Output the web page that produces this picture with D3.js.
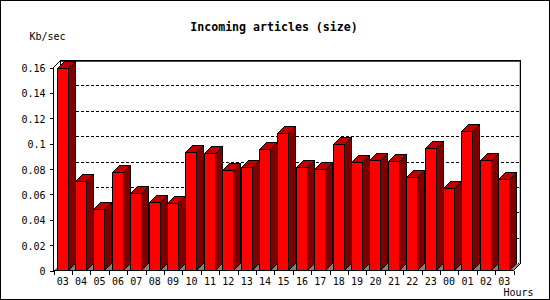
<!DOCTYPE html>
<html><head><meta charset="utf-8">
<script src="https://cdn.jsdelivr.net/npm/d3@7"></script>
<style>body{margin:0;background:#fff}svg{display:block}</style>
</head><body>
<svg id="c" width="550" height="300"></svg>
<script>
const title = "Incoming articles (size)";
const yLabel = "Kb/sec";
const xLabel = "Hours";
const categories = ["03","04","05","06","07","08","09","10","11","12","13","14","15","16","17","18","19","20","21","22","23","00","01","02","03"];
const values = [0.159,0.070,0.048,0.077,0.0605,0.0533,0.0525,0.0927,0.092,0.0786,0.081,0.0951,0.1077,0.081,0.080,0.0991,0.0849,0.0865,0.0857,0.073,0.0959,0.065,0.1096,0.0865,0.0715];
const yTicks = [0,0.02,0.04,0.06,0.08,0.1,0.12,0.14,0.16];
const yTickLabels = ["0","0.02","0.04","0.06","0.08","0.1","0.12","0.14","0.16"];

const svg = d3.select("#c");
const FONT = "'DejaVu Sans Mono', 'Liberation Mono', monospace";
const L = 53.5, R = 513.5, B = 270.5, D = 7;
const x = d3.scaleBand().domain(d3.range(categories.length)).range([L, R]);
const xb = d3.scaleLinear().domain([0, categories.length]).range([L, R]);
const y = d3.scaleLinear().domain([0, 0.16]).range([B, 67.5]);
const snap = v => Math.round(v - 0.5) + 0.5;

// outer border
svg.append("rect").attr("x",0.5).attr("y",0.5).attr("width",549).attr("height",299)
  .attr("fill","#fff").attr("stroke","#000");

const plot = svg.append("g").attr("shape-rendering","crispEdges");

// floor
plot.append("polygon")
  .attr("points", [[L,B],[L+D,B-D],[R+D,B-D],[R,B]].map(p=>p.join(",")).join(" "))
  .attr("fill","#808080");

// back-wall grid lines
plot.selectAll("line.grid").data(yTicks.filter(v => v > 0 && v < 0.16)).join("line")
  .attr("class","grid")
  .attr("x1", L+D).attr("x2", R+D)
  .attr("y1", d => snap(y(d)) - D).attr("y2", d => snap(y(d)) - D)
  .attr("stroke","#000").attr("stroke-dasharray","3,2");
// back right ticks
plot.selectAll("line.rt").data(yTicks).join("line")
  .attr("class","rt")
  .attr("x1", R+D-3).attr("x2", R+D)
  .attr("y1", d => snap(y(d)) - D).attr("y2", d => snap(y(d)) - D)
  .attr("stroke","#000");
// red top line
plot.append("line").attr("x1",L+D).attr("x2",R+D-1).attr("y1",61.5).attr("y2",61.5).attr("stroke","#ff0000");
// back left edge
plot.append("line").attr("x1",L+D).attr("x2",L+D).attr("y1",60.5).attr("y2",B-D).attr("stroke","#000");
// light edge near right wall
plot.append("line").attr("x1",R+D-1).attr("x2",R+D-1).attr("y1",62).attr("y2",B-D).attr("stroke","#c0c0c0");

// bars
const W = 11;
const bars = plot.selectAll("g.bar").data(values).join("g").attr("class","bar");
bars.each(function(v, i) {
  const g = d3.select(this);
  const fx = snap(x(i) + 3.5);
  const fy = snap(y(v));
  const pts = a => a.map(p => p.join(",")).join(" ");
  g.append("polygon").attr("points", pts([[fx+W,fy],[fx+W+D,fy-D],[fx+W+D,B-D],[fx+W,B]]))
    .attr("fill","#800000").attr("stroke","#000");
  g.append("polygon").attr("points", pts([[fx,fy],[fx+D,fy-D],[fx+W+D,fy-D],[fx+W,fy]]))
    .attr("fill","#c00000").attr("stroke","#000");
  g.append("rect").attr("x",fx).attr("y",fy).attr("width",W).attr("height",B-fy)
    .attr("fill","#ff0000").attr("stroke","#000");
});

// frame
const frame = d3.path();
frame.moveTo(L, B); frame.lineTo(L, 67.5); frame.lineTo(L+D, 60.5); frame.lineTo(R+D, 60.5);
frame.lineTo(R+D, B-D); frame.lineTo(R, B); frame.closePath();
plot.append("path").attr("d", frame.toString()).attr("fill","none").attr("stroke","#000");

// y axis
const ya = svg.append("g").attr("transform",`translate(${L},0)`)
  .call(d3.axisLeft(y).tickValues(yTicks).tickFormat((d,i)=>yTickLabels[i]).tickSize(4).tickPadding(4).tickSizeOuter(0));
ya.select(".domain").remove();
ya.selectAll("line").attr("shape-rendering","crispEdges");
ya.selectAll("text").attr("font-family",FONT).attr("font-size",10).attr("dy",null).attr("y",4).attr("fill","#000");

// x boundary ticks
const xt = svg.append("g").attr("transform",`translate(0,${B})`)
  .call(d3.axisBottom(xb).tickValues(d3.range(categories.length+1)).tickFormat("").tickSize(4).tickSizeOuter(0));
xt.select(".domain").remove();
xt.selectAll("line").attr("shape-rendering","crispEdges");

// x labels
const xa = svg.append("g").attr("transform",`translate(0,${B})`)
  .call(d3.axisBottom(x).tickFormat(i=>categories[i]).tickSize(0).tickSizeOuter(0));
xa.select(".domain").remove();
xa.selectAll("text").attr("font-family",FONT).attr("font-size",10).attr("dy",null).attr("y",14.5).attr("fill","#000");

// titles
svg.append("text").attr("x",274).attr("y",31).attr("text-anchor","middle")
  .attr("font-family",FONT).attr("font-weight","bold").attr("font-size",11.6).text(title);
svg.append("text").attr("x",29.5).attr("y",40).attr("font-family",FONT).attr("font-size",10).text(yLabel);
svg.append("text").attr("x",503.5).attr("y",296).attr("font-family",FONT).attr("font-size",10).text(xLabel);
</script>
</body></html>
